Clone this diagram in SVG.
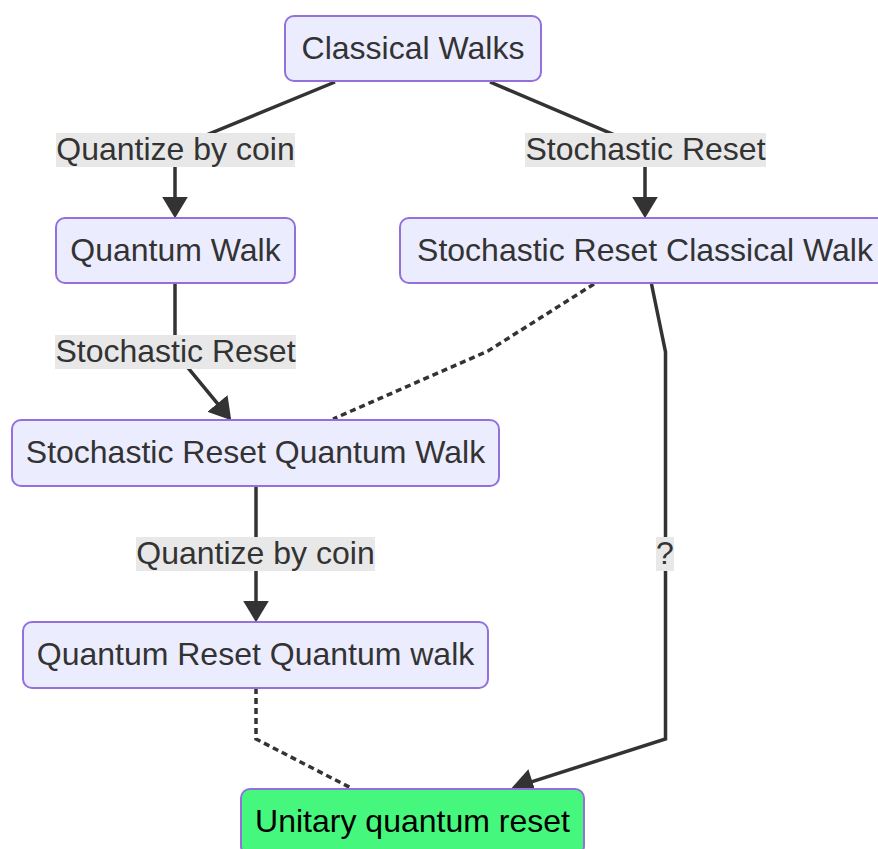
<svg xmlns="http://www.w3.org/2000/svg" width="878" height="849" viewBox="0 0 878 849">
<style>
.node rect{fill:#ECECFF;stroke:#9370DB;stroke-width:2}
.node text{font-family:"Liberation Sans",Arial,sans-serif;font-size:32px;fill:#333;text-anchor:middle}
.edge{fill:none;stroke:#333;stroke-width:3.5}
.dotted{stroke-dasharray:6 4}
.lbl rect{fill:#e8e8e8;stroke:none}
.lbl text{font-family:"Liberation Sans",Arial,sans-serif;font-size:32px;fill:#333;text-anchor:middle}
#unitary rect{fill:#45F77D}
#unitary text{fill:#000}
</style>
<defs>
<marker id="arrow" markerUnits="userSpaceOnUse" markerWidth="22" markerHeight="26" viewBox="0 0 20 24" refX="16" refY="12" orient="auto">
<path d="M0,0 L20,12 L0,24 z" fill="#333"/>
</marker>
</defs>
<rect width="878" height="849" fill="#fff"/>
<g id="connectors">
<path class="edge" d="M335,82 L175,148 L175,214" marker-end="url(#arrow)"/>
<path class="edge" d="M490,82 L645,148 L645,214" marker-end="url(#arrow)"/>
<path class="edge" d="M175,284 L175,352 L228.5,416.9" marker-end="url(#arrow)"/>
<path class="edge dotted" d="M594,284 L488,351 L333,419"/>
<path class="edge" d="M651.5,284 L665.5,352 L665.5,739 L515.8,786.8" marker-end="url(#arrow)"/>
<path class="edge" d="M256,486 L256,618" marker-end="url(#arrow)"/>
<path class="edge dotted" d="M256,688 L256,739 L351,788"/>
<g class="lbl"><rect x="56" y="133" width="239" height="34"/><text x="175.5" y="160">Quantize by coin</text></g>
<g class="lbl"><rect x="525" y="133" width="241" height="34"/><text x="645.5" y="160">Stochastic Reset</text></g>
<g class="lbl"><rect x="55" y="335" width="241" height="34"/><text x="175.5" y="362">Stochastic Reset</text></g>
<g class="lbl"><rect x="136" y="537" width="239" height="34"/><text x="255.5" y="564">Quantize by coin</text></g>
<g class="lbl"><rect x="656" y="537" width="18" height="34"/><text x="665" y="564">?</text></g>
</g>
<g id="classical" class="node"><rect x="285" y="16" width="256" height="65" rx="9"/><text x="413" y="59">Classical Walks</text></g>
<g id="quantum" class="node"><rect x="56" y="218" width="239" height="65" rx="9"/><text x="175.5" y="261">Quantum Walk</text></g>
<g id="srcw" class="node"><rect x="400" y="218" width="490" height="65" rx="9"/><text x="645" y="261">Stochastic Reset Classical Walk</text></g>
<g id="srqw" class="node"><rect x="12" y="420" width="487" height="66" rx="9"/><text x="255.5" y="463">Stochastic Reset Quantum Walk</text></g>
<g id="qrqw" class="node"><rect x="23" y="622" width="465" height="66" rx="9"/><text x="255.5" y="665">Quantum Reset Quantum walk</text></g>
<g id="unitary" class="node"><rect x="241" y="789" width="343" height="66" rx="9"/><text x="412.5" y="832">Unitary quantum reset</text></g>
</svg>
